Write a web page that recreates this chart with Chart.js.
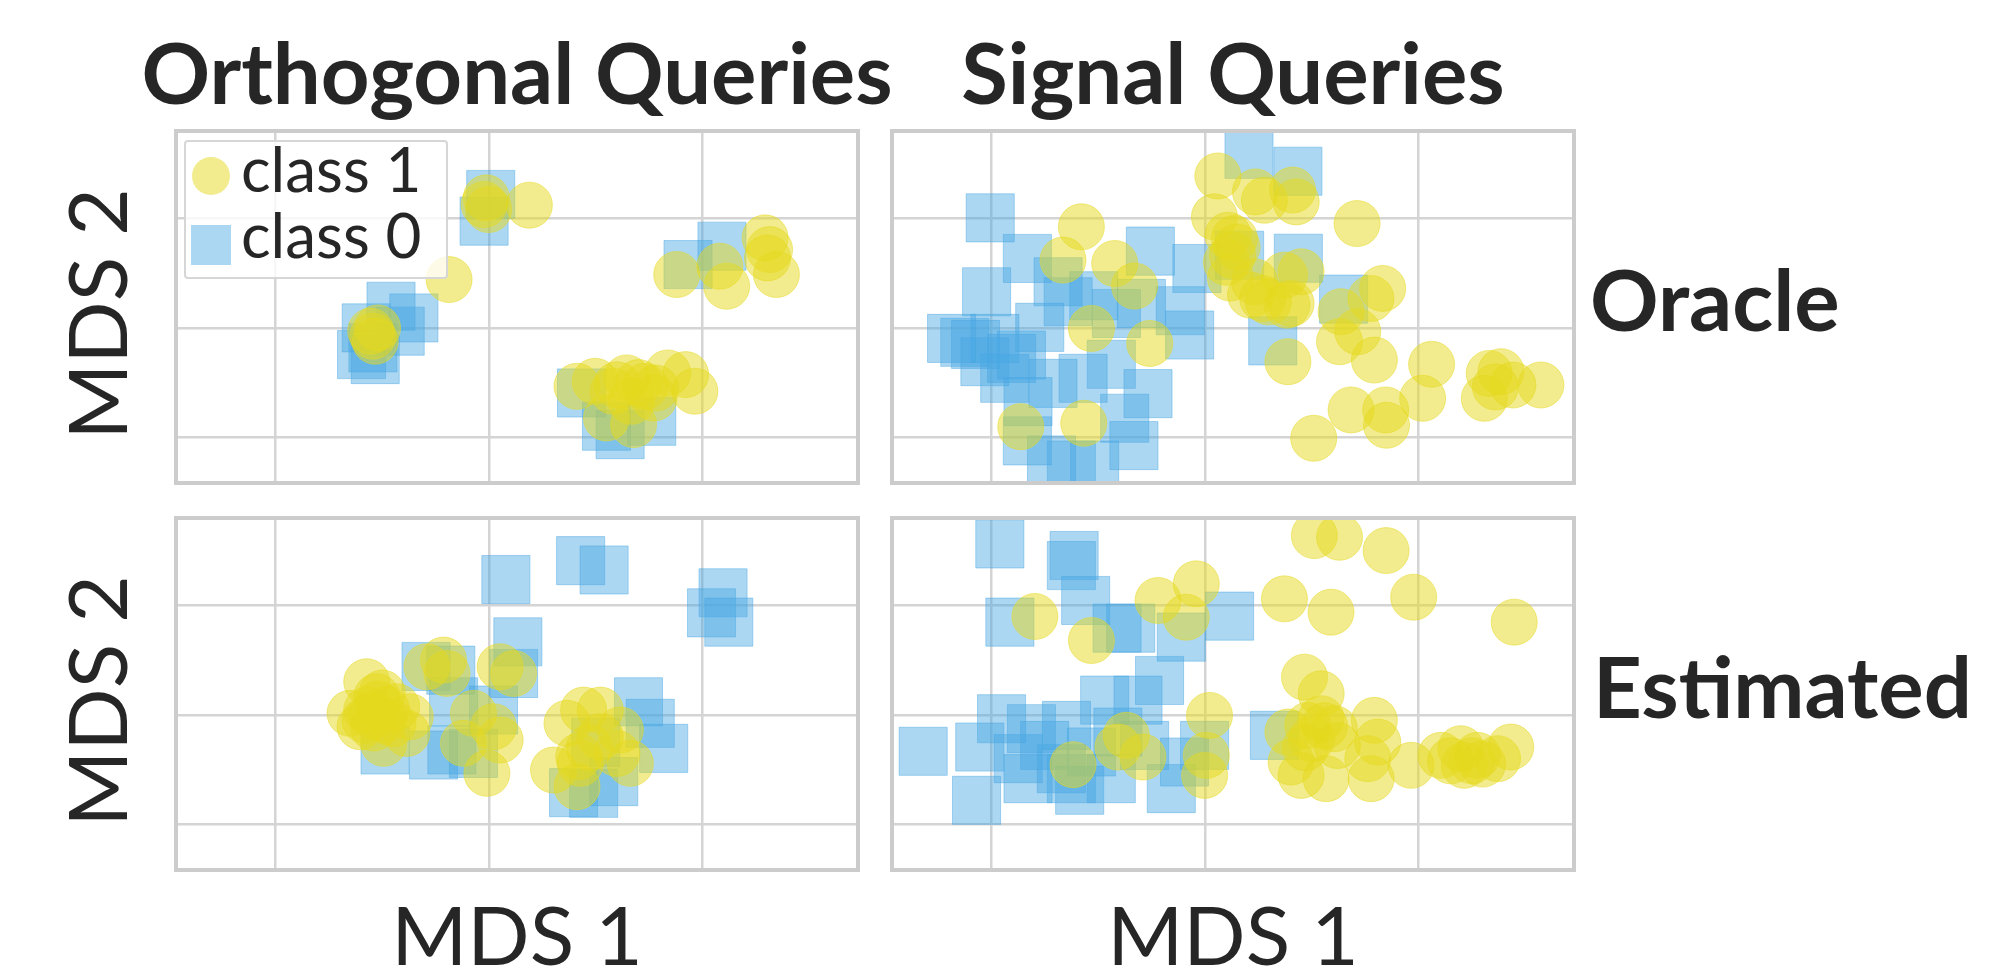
<!DOCTYPE html>
<html>
<head>
<meta charset="utf-8">
<script src="https://cdn.jsdelivr.net/npm/chart.js@4.4.1/dist/chart.umd.min.js"></script>
<style>
  html, body { margin: 0; padding: 0; background: #fff; }
  #fig { position: relative; width: 1992px; height: 969px; overflow: hidden; }
  #fig canvas { position: absolute; }
  #labels { position: absolute; left: 0; top: 0; pointer-events: none; font-family: Lato, sans-serif; }
</style>
</head>
<body>
<div id="fig">
  <canvas id="c-orth-oracle" width="690" height="360" style="left:172px;top:127px"></canvas>
  <canvas id="c-sig-oracle"  width="690" height="360" style="left:888px;top:127px"></canvas>
  <canvas id="c-orth-est"    width="690" height="360" style="left:172px;top:514px"></canvas>
  <canvas id="c-sig-est"     width="690" height="360" style="left:888px;top:514px"></canvas>

  <svg id="labels" width="1992" height="969">
    <g fill="#262626" font-weight="700" font-size="85">
      <text x="517" y="104" text-anchor="middle">Orthogonal Queries</text>
      <text x="1233" y="104" text-anchor="middle">Signal Queries</text>
      <text x="1590" y="331">Oracle</text>
      <text x="1593" y="718">Estimated</text>
    </g>
    <g fill="#262626" font-weight="400" font-size="82">
      <text x="517" y="965" text-anchor="middle">MDS 1</text>
      <text x="1233" y="965" text-anchor="middle">MDS 1</text>
      <text transform="translate(127,314) rotate(-90)" text-anchor="middle">MDS 2</text>
      <text transform="translate(127,701) rotate(-90)" text-anchor="middle">MDS 2</text>
    </g>
    <!-- legend of the top-left panel -->
    <g id="legend">
      <rect x="185" y="141" width="262" height="137" rx="3" fill="rgba(255,255,255,0.8)" stroke="#d6d6d6" stroke-width="2"></rect>
      <circle cx="211" cy="176" r="19" fill="rgba(230,218,30,0.5)"></circle>
      <rect x="191" y="225" width="40" height="40" fill="rgba(72,166,226,0.45)"></rect>
      <text x="241" y="192" font-size="62" fill="#262626">class 1</text>
      <text x="241" y="258" font-size="62" fill="#262626">class 0</text>
    </g>
  </svg>
</div>

<script>
// MDS embeddings, values in grid units (grid lines sit at 0, 1, 2)

const GRID_TICKS = [0, 1, 2];
const X_RANGE = [-0.466, 2.728];
const Y_RANGE = [-0.418, 2.80];
const CLASS_NAMES = ['class 1', 'class 0'];

// Orthogonal queries, oracle
const orthOracle1 = [
  [0.987,2.189],[0.998,2.082],[0.977,2.128],[1.189,2.122],[0.813,1.442],
  [0.446,0.970],[0.467,0.878],[0.456,0.924],[0.478,1.000],
  [1.879,1.488],[2.081,1.564],[2.113,1.381],[2.293,1.823],[2.314,1.716],[2.346,1.488],[2.304,1.640],
  [1.412,0.466],[1.497,0.512],[1.582,0.421],[1.645,0.543],[1.730,0.466],[1.837,0.588],[1.921,0.573],
  [1.964,0.421],[1.550,0.177],[1.677,0.116],[1.667,0.329],[1.773,0.360],
  [1.700,0.500],[1.780,0.450],[1.600,0.480],
];
const orthOracle0 = [
  [1.008,2.220],[0.977,1.976],[0.541,1.198],[0.648,1.091],[0.425,1.000],[0.456,0.817],[0.584,0.970],
  [0.403,0.756],[0.467,0.710],[2.091,1.747],[1.932,1.579],[1.433,0.405],[1.550,0.101],[1.762,0.146],[1.614,0.024],
];

// Signal queries, oracle
const sigOracle1 = [
  [0.421,1.924],[0.335,1.620],[0.577,1.589],[0.670,1.382],[0.468,0.995],[0.741,0.858],[0.137,0.097],[0.432,0.128],
  [1.060,2.389],[1.044,2.015],[1.108,1.848],[1.129,1.665],[1.119,1.455],[1.213,1.300],[1.297,1.238],[1.384,1.208],
  [1.236,2.243],[1.278,2.167],[1.427,2.152],[1.410,2.260],[1.138,1.817],[1.150,1.740],[1.100,1.600],
  [1.712,1.954],[1.232,1.422],[1.372,1.482],[1.270,1.269],[1.403,1.224],[1.450,1.513],[1.832,1.361],[1.777,1.269],
  [1.637,1.148],[1.630,0.874],[1.715,0.965],[1.793,0.706],[1.388,0.691],
  [2.061,0.667],[2.019,0.356],[1.684,0.250],[1.846,0.250],[1.850,0.110],[1.509,-0.009],[2.331,0.584],[2.308,0.356],
  [2.386,0.600],[2.573,0.478],[2.442,0.478],[2.360,0.460],
];
const sigOracle0 = [
  [-0.006,2.006],[0.168,1.635],[-0.023,1.330],[-0.125,0.868],[-0.075,0.849],[0.016,0.904],[0.226,1.005],[-0.031,0.691],
  [0.094,0.721],[0.744,1.702],[0.962,1.543],[0.884,1.157],[0.928,0.935],[0.479,1.294],[0.359,1.239],[0.585,1.132],
  [0.702,1.224],[0.733,0.399],[0.624,0.174],[0.667,-0.076],[0.171,0.326],[0.288,0.493],[0.429,0.539],[0.561,0.667],
  [0.168,-0.033],[0.281,-0.207],[0.374,-0.253],[0.483,-0.253],[-0.187,0.904],[0.062,0.539],[0.140,0.752],[0.312,1.422],
  [1.206,2.587],[1.435,2.432],[1.437,1.637],[1.649,1.263],[1.317,0.881],[1.162,1.664],
];

// Orthogonal queries, estimated
const orthEst1 = [
  [0.427,1.303],[0.474,1.166],[0.427,1.044],[0.396,0.892],[0.506,0.953],[0.568,1.075],[0.615,0.831],[0.506,0.740],
  [0.631,0.983],[0.349,1.014],[0.709,1.440],[0.787,1.501],[0.803,1.379],[1.052,1.440],[1.115,1.379],
  [0.450,1.000],[0.480,1.100],[0.420,0.950],[0.520,1.050],[0.460,0.880],[0.550,0.920],[0.500,1.200],
  [0.927,1.014],[0.880,0.740],[1.052,0.770],[0.990,0.466],[1.021,0.892],
  [1.443,1.044],[1.521,1.044],[1.365,0.923],[1.615,0.862],[1.599,0.648],[1.302,0.496],[1.427,0.557],[1.412,0.344],
  [1.521,0.801],[1.662,0.557],[1.420,0.620],[1.470,0.700],
];
const orthEst0 = [
  [1.079,2.237],[1.429,2.410],[1.539,2.325],[2.096,2.116],[2.042,1.933],[2.123,1.848],[1.135,1.668],[1.115,1.379],
  [0.705,1.443],[0.821,1.409],[0.834,1.120],[1.021,1.044],[0.826,0.679],[0.740,0.633],[0.513,0.679],[0.927,0.648],
  [1.700,1.120],[1.755,0.923],[1.818,0.694],[1.396,0.289],[1.490,0.283],[1.584,0.390],[1.500,0.750],
];

// Signal queries, estimated
const sigEst1 = [
  [0.203,1.900],[0.468,1.680],[0.780,2.046],[0.959,2.198],[0.912,1.893],[1.021,0.995],[0.382,0.545],[0.631,0.813],
  [0.592,0.706],[0.709,0.615],[1.006,0.630],[0.998,0.447],
  [1.512,2.639],[1.630,2.624],[1.848,2.502],[1.372,2.061],[1.590,1.939],[1.977,2.076],[2.448,1.848],
  [1.466,1.345],[1.544,1.193],[1.388,0.843],[1.481,0.904],[1.544,0.965],[1.606,0.874],[1.403,0.569],[1.450,0.447],
  [1.567,0.417],[1.793,0.950],[1.809,0.752],[1.762,0.600],[1.778,0.417],[1.965,0.539],[2.105,0.630],[2.214,0.539],
  [2.276,0.630],[2.370,0.600],[2.432,0.706],[2.198,0.691],
  [1.560,0.900],[1.500,0.780],[1.470,0.700],[1.620,0.720],[2.150,0.580],[2.250,0.580],[2.300,0.550],
];
const sigEst0 = [
  [0.039,2.563],[0.387,2.457],[0.374,2.365],[0.441,2.046],[0.086,1.848],[0.588,1.793],[0.652,1.793],[0.889,1.711],
  [1.115,1.903],[0.787,1.315],[0.530,1.135],[0.686,1.135],[0.187,0.874],[0.351,0.904],[0.249,0.721],[-0.055,0.706],
  [-0.320,0.667],[-0.070,0.219],[0.413,0.311],[0.327,0.508],[0.468,0.661],[0.592,0.843],[0.717,0.721],[0.842,0.326],
  [0.904,0.569],[0.998,0.721],[0.125,0.600],[0.171,0.417],[0.047,0.965],[0.374,0.417],[0.561,0.417],[1.325,0.813],
];

(() => {
  const YELLOW = 'rgba(230, 218, 30, 0.5)';
  const BLUE   = 'rgba(72, 166, 226, 0.45)';
  const GRID   = '#d4d4d4';

  const toXY = pts => pts.map(([x, y]) => ({ x, y }));

  // light grey box round the plot area
  const framePlugin = {
    id: 'frame',
    afterDraw(chart) {
      const { ctx, chartArea: a } = chart;
      ctx.save();
      ctx.strokeStyle = '#cccccc';
      ctx.lineWidth = 4;
      ctx.strokeRect(a.left, a.top, a.right - a.left, a.bottom - a.top);
      ctx.restore();
    },
  };

  const axis = (range) => ({
    type: 'linear', min: range[0], max: range[1],
    afterBuildTicks: s => { s.ticks = GRID_TICKS.map(v => ({ value: v })); },
    ticks: { display: false },
    grid: { color: GRID, lineWidth: 2.5, drawTicks: false },
    border: { display: false },
  });

  function makePanel(id, ones, zeros) {
    return new Chart(document.getElementById(id), {
      type: 'scatter',
      data: {
        datasets: [
          { label: CLASS_NAMES[0], data: toXY(ones), pointStyle: 'circle', pointRadius: 23,
            backgroundColor: YELLOW, borderColor: YELLOW, borderWidth: 1, clip: 0 },
          { label: CLASS_NAMES[1], data: toXY(zeros), pointStyle: 'rect', pointRadius: 34,
            backgroundColor: BLUE, borderColor: BLUE, borderWidth: 1, clip: 0 },
        ],
      },
      options: {
        animation: false, responsive: false, events: [],
        layout: { padding: 4, autoPadding: false },
        plugins: { legend: { display: false }, tooltip: { enabled: false } },
        scales: { x: axis(X_RANGE), y: axis(Y_RANGE) },
      },
      plugins: [framePlugin],
    });
  }

  makePanel('c-orth-oracle', orthOracle1, orthOracle0);
  makePanel('c-sig-oracle',  sigOracle1,  sigOracle0);
  makePanel('c-orth-est',    orthEst1,    orthEst0);
  makePanel('c-sig-est',     sigEst1,     sigEst0);
})();
</script>
</body>
</html>
